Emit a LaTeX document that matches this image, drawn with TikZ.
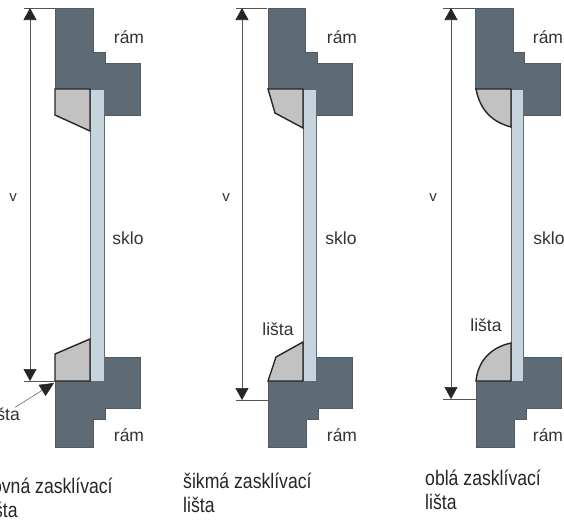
\documentclass[tikz,border=0pt]{standalone}
\usepackage{fontspec}
\setmainfont{Liberation Sans}
\newfontfamily\capfont[FakeStretch=0.84]{Liberation Sans}
\usetikzlibrary{arrows.meta}
\definecolor{framecol}{HTML}{5F6B74}
\definecolor{stripcol}{HTML}{C2C2C2}
\definecolor{glasscol}{HTML}{C6D4DD}
\definecolor{dimcol}{HTML}{555555}
\tikzset{
  x=1pt,y=-1pt,
  framepart/.style={fill=framecol,draw=framecol!85!black,line width=0.5pt},
  glasspart/.style={fill=glasscol,draw=framecol,line width=0.6pt},
  strippart/.style={fill=stripcol,draw=black!85,line width=1.4pt,line join=miter},
  dimline/.style={draw=dimcol,line width=0.7pt},
  dimarrow/.style={draw=dimcol,line width=0.7pt,{Triangle[length=12pt,width=13pt,color=black!85]}-{Triangle[length=12pt,width=13pt,color=black!85]}},
  leader/.style={draw=dimcol,line width=0.5pt,-{Triangle[length=14pt,width=13pt,color=black!85]}},
  lbl/.style={font=\fontsize{17.5}{20}\selectfont,text=black!80,inner sep=0pt},
  smallv/.style={font=\fontsize{15}{17}\selectfont,text=black!80,inner sep=0pt},
  captxt/.style={font=\capfont\fontsize{21}{23.5}\selectfont,text=black!85,inner sep=0pt,anchor=base west,align=left}
}
\begin{document}
\begin{tikzpicture}
\useasboundingbox (0,0) rectangle (564,522);
\clip (0,0) rectangle (564,522);
\fill[white] (0,0) rectangle (564,522);
% ---------- panel 1
\draw[framepart] (55,8)--(93,8)--(93,52)--(105,52)--(105,63)--(140,63)--(140,115)--(104,115)--(104,89)--(55,89)--cycle;
\draw[framepart] (55,381)--(104,381)--(104,357)--(140,357)--(140,408)--(105,408)--(105,419)--(93,419)--(93,447)--(55,447)--cycle;
\draw[glasspart] (90,89) rectangle (104,381);
\draw[strippart] (55,89)--(90,89)--(90,131)--(55,115)--cycle;
\draw[strippart] (55,381)--(90,381)--(90,339)--(55,354)--cycle;
\coordinate (a1t) at (30,8); \coordinate (a1b) at (30,381);
\coordinate (a1tl) at (24,8); \coordinate (a1tr) at (55,8);
\coordinate (a1bl) at (24,381); \coordinate (a1br) at (55,381);
\draw[dimline] (a1tl)--(a1tr); \draw[dimline] (a1bl)--(a1br);
\draw[dimarrow] (a1t)--(a1b);
\node[smallv] at (13,198) {v};
\node[lbl] at (129,37) {rám};
\node[lbl] at (128,238) {sklo};
\node[lbl] at (129,435) {rám};
\node[lbl,anchor=east] (l1) at (20,414) {lišta};
\coordinate (l1tip) at (54,383);
\draw[leader] (l1)--(l1tip);
\node[captxt] at (-14,517) {rovná zasklívací\\lišta};
% ---------- panel 2
\draw[framepart] (268,8)--(305,8)--(305,52)--(317,52)--(317,63)--(352,63)--(352,115)--(316,115)--(316,89)--(268,89)--cycle;
\draw[framepart] (268,381)--(316,381)--(316,357)--(352,357)--(352,408)--(318,408)--(318,419)--(306,419)--(306,447)--(268,447)--cycle;
\draw[glasspart] (303,89) rectangle (316,381);
\draw[strippart] (268,89)--(303,89)--(303,128)--(275,113)--cycle;
\draw[strippart] (268,381)--(303,381)--(303,342)--(276,357)--cycle;
\coordinate (a2t) at (242,8); \coordinate (a2b) at (242,400);
\coordinate (a2tl) at (236,8); \coordinate (a2tr) at (267,8);
\coordinate (a2bl) at (236,400); \coordinate (a2br) at (268,400);
\draw[dimline] (a2tl)--(a2tr); \draw[dimline] (a2bl)--(a2br);
\draw[dimarrow] (a2t)--(a2b);
\node[smallv] at (226,198) {v};
\node[lbl] at (342,37) {rám};
\node[lbl] at (341,238) {sklo};
\node[lbl] at (342,435) {rám};
\node[lbl] at (278,329) {lišta};
\node[captxt] at (183,512) {šikmá zasklívací\\lišta};
% ---------- panel 3
\draw[framepart] (475,8)--(513,8)--(513,52)--(524,52)--(524,63)--(560,63)--(560,115)--(523,115)--(523,89)--(475,89)--cycle;
\draw[framepart] (476,381)--(523,381)--(523,357)--(561,357)--(561,408)--(526,408)--(526,419)--(514,419)--(514,447)--(476,447)--cycle;
\draw[glasspart] (511,89) rectangle (523,381);
\draw[strippart] (476,89)--(511,89)--(511,127) .. controls (492,122) and (480,110) .. cycle;
\draw[strippart] (476,381)--(511,381)--(511,343) .. controls (492,347) and (478,360) .. cycle;
\coordinate (a3t) at (451,8); \coordinate (a3b) at (451,399);
\coordinate (a3tl) at (443,8); \coordinate (a3tr) at (475,8);
\coordinate (a3bl) at (443,399); \coordinate (a3br) at (476,399);
\draw[dimline] (a3tl)--(a3tr); \draw[dimline] (a3bl)--(a3br);
\draw[dimarrow] (a3t)--(a3b);
\node[smallv] at (433,198) {v};
\node[lbl] at (548,37) {rám};
\node[lbl] at (549,238) {sklo};
\node[lbl] at (548,435) {rám};
\node[lbl] at (486,325) {lišta};
\node[captxt] at (425,509) {oblá zasklívací\\lišta};
\end{tikzpicture}
\end{document}
